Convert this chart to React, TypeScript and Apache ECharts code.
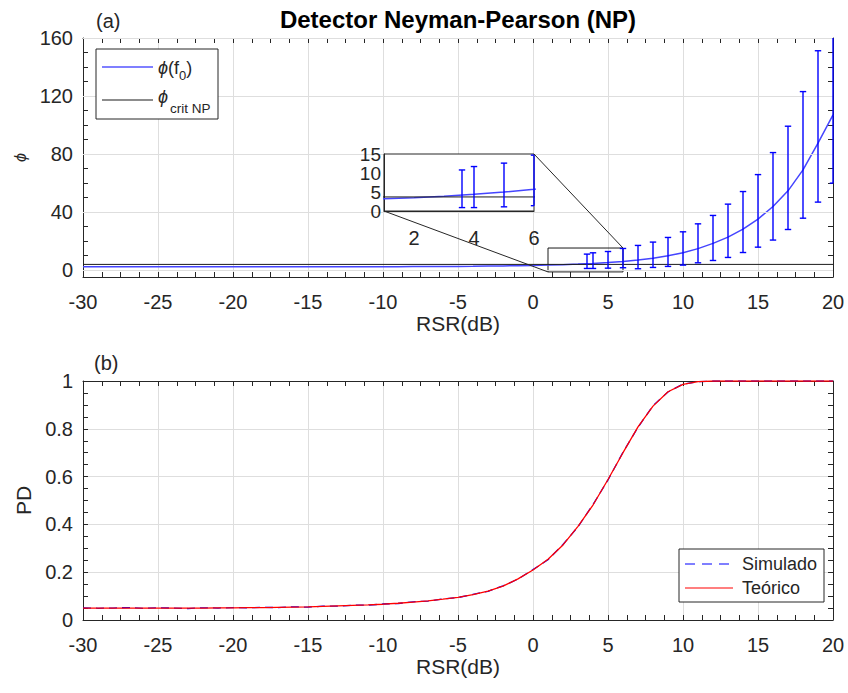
import React, { useEffect, useRef } from 'react';
import * as echarts from 'echarts';

// ---------- data ----------
const rsrDb = [
  -30, -29, -28, -27, -26, -25, -24, -23, -22, -21, -20, -19, -18, -17, -16, -15, -14,
  -13, -12, -11, -10, -9, -8, -7, -6, -5, -4, -3, -2, -1, 0, 1, 2, 3, 4, 5, 6, 7, 8, 9,
  10, 11, 12, 13, 14, 15, 16, 17, 18, 19, 20,
];
const phiF0 = [
  2.0, 2.0, 2.0, 2.0, 2.0, 2.0, 2.0, 2.0, 2.0, 2.0, 2.01, 2.01, 2.02, 2.02, 2.03, 2.03, 2.04,
  2.05, 2.07, 2.08, 2.1, 2.13, 2.17, 2.21, 2.26, 2.33, 2.42, 2.53, 2.66, 2.83, 3.0, 3.2, 3.5,
  3.9, 4.4, 5.0, 5.7, 6.7, 7.9, 9.6, 11.8, 14.6, 18.2, 22.5, 28.0, 35.0, 43.7, 54.5, 69.0,
  87.4, 106.9,
];
const phiCritNP = 3.7;
const errX = [3.6, 4, 5, 6, 7, 8, 9, 10, 11, 12, 13, 14, 15, 16, 17, 18, 19, 20];
const errLo = [0.9, 0.9, 1.1, 1.4, 0.7, 1.6, 2.3, 3.2, 4.8, 6.4, 8.5, 11.9, 15.6, 20.5, 27.8, 35.6, 46.7, 59.8];
const errHi = [10.8, 11.7, 12.6, 14.7, 16.8, 19.1, 22.3, 26.2, 31.7, 37.5, 45.3, 54.0, 65.7, 80.9, 99.1, 123.0, 151.2, 185.0];
const pdTeorico = [
  0.05, 0.05, 0.05, 0.05, 0.05, 0.05, 0.05, 0.05, 0.05, 0.051, 0.051, 0.052, 0.052, 0.053,
  0.054, 0.055, 0.057, 0.059, 0.061, 0.063, 0.066, 0.07, 0.075, 0.08, 0.087, 0.095, 0.106,
  0.121, 0.142, 0.172, 0.209, 0.254, 0.314, 0.392, 0.481, 0.588, 0.7, 0.808, 0.895, 0.955,
  0.986, 0.997, 1.0, 1.0, 1.0, 1.0, 1.0, 1.0, 1.0, 1.0, 1.0,
];
const pdSimulado = [
  0.051, 0.049, 0.05, 0.052, 0.049, 0.051, 0.05, 0.048, 0.051, 0.05, 0.052, 0.051, 0.053,
  0.052, 0.055, 0.054, 0.058, 0.058, 0.062, 0.062, 0.067, 0.069, 0.076, 0.079, 0.088, 0.094,
  0.107, 0.12, 0.143, 0.171, 0.211, 0.252, 0.316, 0.39, 0.483, 0.586, 0.702, 0.806, 0.897,
  0.954, 0.987, 0.997, 1.0, 1.0, 1.0, 1.0, 1.0, 1.0, 1.0, 1.0, 1.0,
];
const yLabelsTop = [0, 40, 80, 120, 160];
const yTicksTop = [0, 10, 20, 30, 40, 50, 60, 70, 80, 90, 100, 110, 120, 130, 140, 150, 160];
const insetYLabels = [0, 5, 10, 15];
const insetXLabels = [2, 4, 6];
const zoomBox = { x0: 1, x1: 6, y0: -1.5, y1: 15 };

// ---------- style ----------
const FONT = "'Liberation Sans', Arial, Helvetica, sans-serif";
const AX = '#262626';
const GRIDC = '#dedede';

function measure(text: string, font: string): number {
  const c = document.createElement('canvas').getContext('2d');
  if (!c) return text.length * 8;
  c.font = font;
  return c.measureText(text).width;
}

function xAx(grid: number, pos: 'bottom' | 'top', main: boolean) {
  return {
    type: 'value', gridIndex: grid, position: pos, min: -30, max: 20, interval: 5,
    axisLine: { show: true, onZero: false, lineStyle: { color: AX, width: 1 } },
    axisTick: { show: true, inside: true, length: 5, lineStyle: { color: AX } },
    minorTick: { show: true, splitNumber: 4, length: 5, lineStyle: { color: AX } },
    axisLabel: { show: main, fontSize: 20, fontFamily: FONT, color: AX, margin: 15 },
    splitLine: { show: main, lineStyle: { color: GRIDC, width: 1 } },
    name: main ? 'RSR(dB)' : '', nameLocation: 'middle', nameGap: 35,
    nameTextStyle: { fontSize: 21, fontFamily: FONT, color: AX },
  };
}

function errRender(params: any, api: any) {
  const x = api.value(0), lo = api.value(1), hi = api.value(2);
  const cs = params.coordSys;
  const pl = api.coord([x, lo]);
  const ph = api.coord([x, hi]);
  const px = pl[0];
  if (px < cs.x - 0.6 || px > cs.x + cs.width + 0.6) return null;
  const top = Math.max(ph[1], cs.y);
  const bot = Math.min(pl[1], cs.y + cs.height);
  if (top >= bot) return null;
  const cw = 3.2;
  const xl = Math.max(px - cw, cs.x), xr = Math.min(px + cw, cs.x + cs.width);
  const style = { stroke: '#0000ff', lineWidth: 1.4 };
  const children: any[] = [{ type: 'line', shape: { x1: px, y1: top, x2: px, y2: bot }, style }];
  if (ph[1] >= cs.y) children.push({ type: 'line', shape: { x1: xl, y1: ph[1], x2: xr, y2: ph[1] }, style });
  if (pl[1] <= cs.y + cs.height) children.push({ type: 'line', shape: { x1: xl, y1: pl[1], x2: xr, y2: pl[1] }, style });
  return { type: 'group', children };
}

function txt(id: string, text: string, x: number, y: number, size: number, opts: any = {}) {
  const align = opts.align || 'left';
  return {
    type: 'text', id, z: 100,
    style: {
      text, x, y, fill: opts.fill || AX, fontSize: size, fontFamily: FONT,
      fontStyle: opts.italic ? 'italic' : 'normal', fontWeight: opts.bold ? 'bold' : 'normal',
      textAlign: align, textVerticalAlign: 'middle', align, verticalAlign: 'middle',
    },
  };
}

export default function App() {
  const ref = useRef<HTMLDivElement>(null);
  useEffect(() => {
    if (!ref.current) return;
    const chart = echarts.init(ref.current, null, { renderer: 'svg' });
    const phiData = rsrDb.map((x, i) => [x, phiF0[i]]);
    const critData = [[rsrDb[0], phiCritNP], [rsrDb[rsrDb.length - 1], phiCritNP]];
    const errData = errX.map((x, i) => [x, errLo[i], errHi[i]]);
    const simData = rsrDb.map((x, i) => [x, pdSimulado[i]]);
    const teoData = rsrDb.map((x, i) => [x, pdTeorico[i]]);

    const wPhi = measure('ϕ', `italic 18px ${FONT}`);
    const wPf = measure('(f', `18px ${FONT}`);
    const w0 = measure('0', `13px ${FONT}`);

    const graphics: any[] = [
      txt('title', 'Detector Neyman-Pearson (NP)', 458, 19, 24, { bold: true, align: 'center', fill: '#000' }),
      txt('la', '(a)', 96, 21, 20),
      txt('lb', '(b)', 94, 363, 20),
      // legend (a)
      { type: 'rect', id: 'lg1', z: 99, shape: { x: 96, y: 49, width: 122, height: 70 }, style: { fill: '#fff', stroke: AX, lineWidth: 1 } },
      { type: 'line', id: 'lg1l1', z: 100, shape: { x1: 102, y1: 67, x2: 153, y2: 67 }, style: { stroke: '#0000ff', lineWidth: 1.2 } },
      txt('lg1t1a', 'ϕ', 158, 68, 18, { italic: true }),
      txt('lg1t1b', '(f', 158 + wPhi, 68, 18),
      txt('lg1t1c', '0', 158 + wPhi + wPf, 75, 13),
      txt('lg1t1d', ')', 158 + wPhi + wPf + w0, 68, 18),
      { type: 'line', id: 'lg1l2', z: 100, shape: { x1: 102, y1: 100, x2: 153, y2: 100 }, style: { stroke: '#1a1a1a', lineWidth: 1.2 } },
      txt('lg1t2a', 'ϕ', 158, 97, 18, { italic: true }),
      txt('lg1t2b', 'crit NP', 158 + wPhi + 2, 108, 13.5),
      // legend (b)
      { type: 'rect', id: 'lg2', z: 99, shape: { x: 679, y: 549, width: 145, height: 53 }, style: { fill: '#fff', stroke: AX, lineWidth: 1 } },
      { type: 'line', id: 'lg2l1', z: 100, shape: { x1: 685, y1: 564, x2: 733, y2: 564 }, style: { stroke: '#0000ff', lineWidth: 1.2, lineDash: [10, 7] } },
      txt('lg2t1', 'Simulado', 742, 564, 18),
      { type: 'line', id: 'lg2l2', z: 100, shape: { x1: 685, y1: 588, x2: 733, y2: 588 }, style: { stroke: '#ff0000', lineWidth: 1.2 } },
      txt('lg2t2', 'Teórico', 742, 588, 18),
    ];

    const option: any = {
      animation: false,
      backgroundColor: '#fff',
      textStyle: { fontFamily: FONT },
      grid: [
        { left: 83, top: 38, width: 750, height: 239, show: false },
        { left: 83, top: 381, width: 750, height: 239, show: false },
        { left: 384, top: 154, width: 150, height: 57, show: true, backgroundColor: '#fff', borderColor: AX, borderWidth: 1, z: 10 },
      ],
      xAxis: [
        xAx(0, 'bottom', true),
        xAx(0, 'top', false),
        xAx(1, 'bottom', true),
        xAx(1, 'top', false),
        {
          type: 'value', gridIndex: 2, min: 1, max: 6, z: 11,
          axisLine: { show: true, onZero: false, lineStyle: { color: AX } },
          axisTick: { show: false }, splitLine: { show: false },
          axisLabel: {
            fontSize: 20, fontFamily: FONT, color: AX, margin: 17, customValues: insetXLabels,
            showMinLabel: true, showMaxLabel: true, hideOverlap: false,
          },
        },
      ],
      yAxis: [
        {
          type: 'value', gridIndex: 0, position: 'left', min: -5, max: 160,
          axisLine: { show: true, onZero: false, lineStyle: { color: AX } },
          axisTick: { show: true, inside: true, length: 5, lineStyle: { color: AX }, customValues: yTicksTop },
          axisLabel: { show: true, fontSize: 20, fontFamily: FONT, color: AX, margin: 10, customValues: yLabelsTop },
          splitLine: { show: false },
          name: 'ϕ', nameLocation: 'middle', nameGap: 46, nameRotate: 90,
          nameTextStyle: { fontSize: 16, fontFamily: FONT, color: AX, fontStyle: 'italic' },
        },
        {
          type: 'value', gridIndex: 0, position: 'right', min: -5, max: 160,
          axisLine: { show: true, onZero: false, lineStyle: { color: AX } },
          axisTick: { show: true, inside: true, length: 5, lineStyle: { color: AX }, customValues: yTicksTop },
          axisLabel: { show: false }, splitLine: { show: false },
        },
        {
          type: 'value', gridIndex: 1, position: 'left', min: 0, max: 1, interval: 0.2,
          axisLine: { show: true, onZero: false, lineStyle: { color: AX } },
          axisTick: { show: true, inside: true, length: 5, lineStyle: { color: AX } },
          minorTick: { show: true, splitNumber: 4, length: 5, lineStyle: { color: AX } },
          axisLabel: { show: true, fontSize: 20, fontFamily: FONT, color: AX, margin: 10 },
          splitLine: { show: true, lineStyle: { color: GRIDC } },
          name: 'PD', nameLocation: 'middle', nameGap: 47, nameRotate: 90,
          nameTextStyle: { fontSize: 21, fontFamily: FONT, color: AX },
        },
        {
          type: 'value', gridIndex: 1, position: 'right', min: 0, max: 1, interval: 0.2,
          axisLine: { show: true, onZero: false, lineStyle: { color: AX } },
          axisTick: { show: true, inside: true, length: 5, lineStyle: { color: AX } },
          minorTick: { show: true, splitNumber: 4, length: 5, lineStyle: { color: AX } },
          axisLabel: { show: false }, splitLine: { show: false },
        },
        {
          type: 'value', gridIndex: 2, min: 0, max: 15, z: 11,
          axisLine: { show: true, onZero: false, lineStyle: { color: AX } },
          axisTick: { show: false }, splitLine: { show: false },
          axisLabel: {
            fontSize: 19, fontFamily: FONT, color: AX, margin: 3, customValues: insetYLabels,
            showMinLabel: true, showMaxLabel: true, hideOverlap: false, lineHeight: 15,
          },
        },
      ],
      series: [
        {
          name: 'grid-top', type: 'line', xAxisIndex: 0, yAxisIndex: 0, data: [], z: 1, silent: true,
          markLine: {
            silent: true, symbol: ['none', 'none'], label: { show: false },
            lineStyle: { color: GRIDC, type: 'solid', width: 1 },
            data: yLabelsTop.map((v) => ({ yAxis: v })),
          },
        },
        {
          name: 'ϕ(f0)', type: 'line', xAxisIndex: 0, yAxisIndex: 0, data: phiData, symbol: 'none', z: 3,
          lineStyle: { color: '#4545ff', width: 1.5 },
        },
        {
          name: 'ϕcrit NP', type: 'line', xAxisIndex: 0, yAxisIndex: 0, data: critData, symbol: 'none', z: 4,
          lineStyle: { color: '#1a1a1a', width: 1 },
          markArea: {
            silent: true,
            itemStyle: { color: 'rgba(0,0,0,0)', borderColor: '#1a1a1a', borderWidth: 1 },
            data: [[{ coord: [zoomBox.x0, zoomBox.y0] }, { coord: [zoomBox.x1, zoomBox.y1] }]],
          },
        },
        {
          name: 'err', type: 'custom', xAxisIndex: 0, yAxisIndex: 0, data: errData, z: 5,
          encode: { x: 0, y: [1, 2] }, renderItem: errRender,
        },
        {
          name: 'ϕ(f0) inset', type: 'line', xAxisIndex: 4, yAxisIndex: 4, data: phiData, symbol: 'none', z: 12, clip: true,
          lineStyle: { color: '#4545ff', width: 1.5 },
        },
        {
          name: 'crit inset', type: 'line', xAxisIndex: 4, yAxisIndex: 4, data: critData, symbol: 'none', z: 13, clip: true,
          lineStyle: { color: '#1a1a1a', width: 1 },
        },
        {
          name: 'err inset', type: 'custom', xAxisIndex: 4, yAxisIndex: 4, data: errData, z: 14,
          encode: { x: 0, y: [1, 2] }, renderItem: errRender,
        },
        {
          name: 'Simulado', type: 'line', xAxisIndex: 2, yAxisIndex: 2, data: simData, symbol: 'none', z: 3,
          lineStyle: { color: '#0000ff', width: 1.3, type: [8, 5] },
        },
        {
          name: 'Teórico', type: 'line', xAxisIndex: 2, yAxisIndex: 2, data: teoData, symbol: 'none', z: 4,
          lineStyle: { color: '#ff0000', width: 1.3 },
        },
      ],
      graphic: { elements: graphics },
    };
    chart.setOption(option);

    // connector lines between the zoom box and the inset
    const a = chart.convertToPixel({ xAxisIndex: 4, yAxisIndex: 4 } as any, [zoomBox.x1, zoomBox.y1]) as number[];
    const b = chart.convertToPixel({ xAxisIndex: 0, yAxisIndex: 0 } as any, [zoomBox.x1, zoomBox.y1]) as number[];
    const c = chart.convertToPixel({ xAxisIndex: 4, yAxisIndex: 4 } as any, [zoomBox.x0, 0]) as number[];
    const d = chart.convertToPixel({ xAxisIndex: 0, yAxisIndex: 0 } as any, [zoomBox.x0, zoomBox.y0]) as number[];
    if (a && b && c && d) {
      chart.setOption({
        graphic: {
          elements: [
            ...graphics,
            { type: 'line', id: 'con1', z: 90, shape: { x1: a[0], y1: a[1], x2: b[0], y2: b[1] }, style: { stroke: AX, lineWidth: 1 } },
            { type: 'line', id: 'con2', z: 90, shape: { x1: c[0], y1: c[1], x2: d[0], y2: d[1] }, style: { stroke: AX, lineWidth: 1 } },
          ],
        },
      });
    }
    return () => chart.dispose();
  }, []);
  return <div ref={ref} style={{ position: 'fixed', left: 0, top: 0, width: 848, height: 693 }} />;
}
